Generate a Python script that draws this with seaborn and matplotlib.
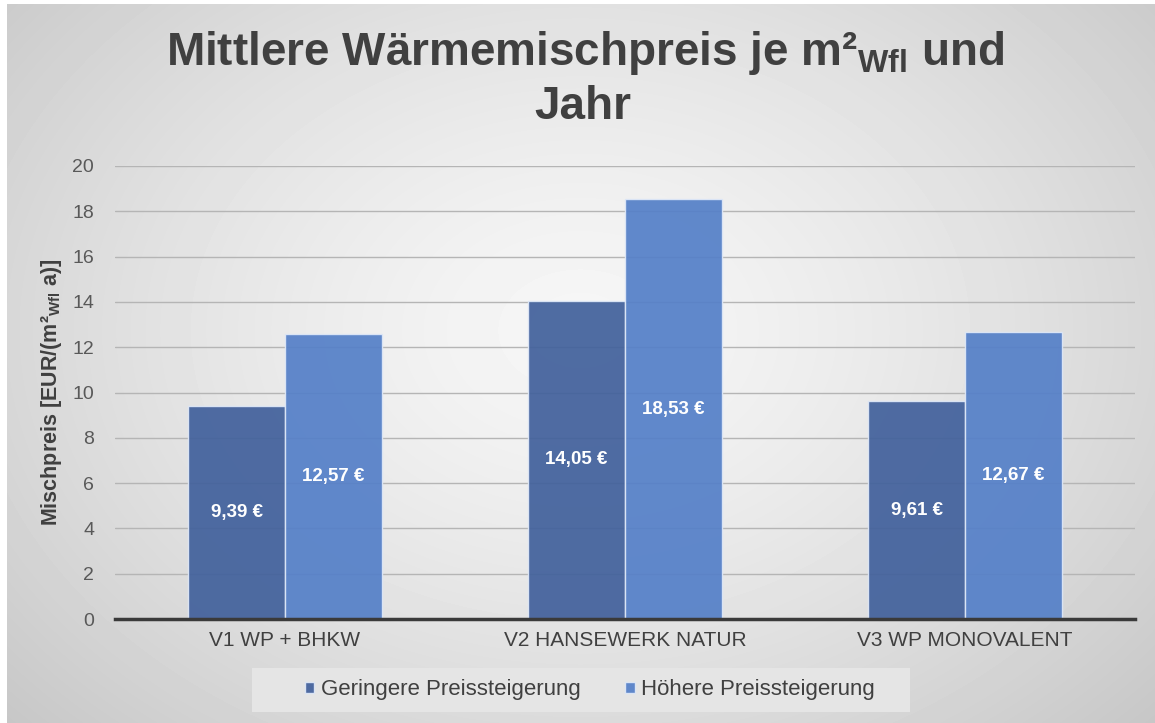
import numpy as np
import pandas as pd
import seaborn as sns
import matplotlib.pyplot as plt
from matplotlib.patches import Rectangle

sns.set_theme(style="white")
plt.rcParams['font.family'] = ['Liberation Sans', 'DejaVu Sans']
plt.rcParams['mathtext.fontset'] = 'custom'
plt.rcParams['mathtext.rm'] = 'Liberation Sans:bold'
plt.rcParams['mathtext.it'] = 'Liberation Sans:bold'
plt.rcParams['mathtext.bf'] = 'Liberation Sans:bold'

# Daten
varianten = ["V1 WP + BHKW", "V2 HANSEWERK NATUR", "V3 WP MONOVALENT"]
szenarien = ["Geringere Preissteigerung", "Höhere Preissteigerung"]
gering = [9.39, 14.05, 9.61]
hoch = [12.57, 18.53, 12.67]
farben = ["#42619c", "#5580c8"]
yticks = [0, 2, 4, 6, 8, 10, 12, 14, 16, 18, 20]

df = pd.DataFrame({
    "Variante": varianten * 2,
    "Szenario": [szenarien[0]] * 3 + [szenarien[1]] * 3,
    "Preis": gering + hoch,
})

fig = plt.figure(figsize=(11.55, 7.23), dpi=100)

# Hintergrund mit radialem Verlauf
bg = fig.add_axes([0, 0, 1, 1], zorder=-5)
yy, xx = np.mgrid[0:723, 0:1155]
r = np.sqrt(((xx - 580) / 700.0) ** 2 + ((yy - 330) / 520.0) ** 2)
grau = np.clip(0.965 - 0.16 * r ** 1.4, 0.78, 1.0)
bg.imshow(grau, cmap="gray", vmin=0, vmax=1, aspect="auto", extent=[0, 1, 0, 1])
bg.set_xlim(0, 1)
bg.set_ylim(0, 1)
bg.axis("off")
# weisser Rand links/oben
fig.patches.append(Rectangle((0, 0), 7 / 1155, 1, transform=fig.transFigure,
                             facecolor="white", edgecolor="none", zorder=-4))
fig.patches.append(Rectangle((0, 1 - 4 / 723), 1, 4 / 723, transform=fig.transFigure,
                             facecolor="white", edgecolor="none", zorder=-4))
# Legendenhintergrund
fig.patches.append(Rectangle((252 / 1155, (723 - 712) / 723), 658 / 1155, 44 / 723,
                             transform=fig.transFigure, facecolor="#e5e5e5",
                             edgecolor="none", zorder=-3))

ax = fig.add_axes([115 / 1155, (723 - 619) / 723, 1020 / 1155, 453 / 723])
ax.patch.set_alpha(0)

sns.barplot(data=df, x="Variante", y="Preis", hue="Szenario", palette=farben,
            saturation=1, width=0.57, edgecolor="#dfe8f7", linewidth=1, alpha=0.93,
            ax=ax, legend=True)

for cont, werte in zip(ax.containers, [gering, hoch]):
    ax.bar_label(cont, labels=[f"{v:.2f} €".replace(".", ",") for v in werte],
                 label_type="center", color="white", fontweight="bold", fontsize=13.5)

ax.set_xlim(-0.5, 2.5)
ax.set_ylim(0, 20)
ax.set_yticks(yticks)
ax.yaxis.grid(True, color="#b5b5b5", linewidth=1)
ax.set_axisbelow(True)
for s in ["top", "right", "left"]:
    ax.spines[s].set_visible(False)
ax.spines["bottom"].set_color("#3a3a3a")
ax.spines["bottom"].set_linewidth(2.5)
ax.tick_params(axis="y", length=0, labelsize=14, labelcolor="#595959", pad=15)
ax.tick_params(axis="x", length=0, labelsize=15, labelcolor="#404040", pad=9)
ax.set_xlabel("")
ax.set_ylabel(r"Mischpreis [EUR/(m²$_{\mathrm{Wfl}}$ a)]", fontsize=15.5,
              fontweight="bold", color="#404040", labelpad=6)

handles, labels = ax.get_legend_handles_labels()
ax.legend_.remove()
fig.legend(handles, labels, loc="center", bbox_to_anchor=(590 / 1155, (723 - 690) / 723),
           ncol=2, frameon=False, fontsize=16, handlelength=0.42, handleheight=0.42,
           handletextpad=0.3, columnspacing=2.0, labelcolor="#404040")

fig.text(585 / 1155, 1 - 53 / 723, r"Mittlere Wärmemischpreis je m²$_{\mathrm{Wfl}}$ und",
         ha="center", va="center", fontsize=33, fontweight="bold", color="#404040")
fig.text(583 / 1155, 1 - 107 / 723, "Jahr", ha="center", va="center",
         fontsize=33, fontweight="bold", color="#404040")

fig.savefig("out.png", dpi=100)
